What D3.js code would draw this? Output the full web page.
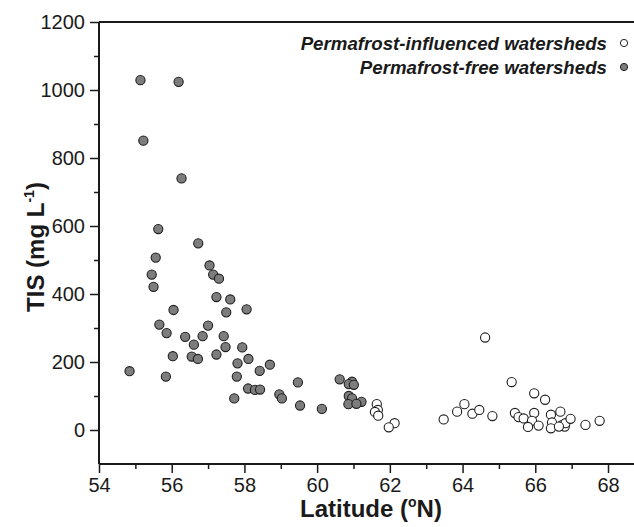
<!DOCTYPE html>
<html>
<head>
<meta charset="utf-8">
<script src="https://cdn.jsdelivr.net/npm/d3@7"></script>
<style>
  html, body { margin: 0; padding: 0; background: #fff; }
  svg { display: block; font-family: "Liberation Sans", Arial, sans-serif; }
</style>
</head>
<body>
<script>
// Permafrost-free watersheds (grey filled)
const freeLat = [55.14, 56.19, 55.22, 56.27, 55.63, 56.73, 55.56, 57.04, 55.45, 57.14,
  57.30, 55.50, 57.23, 57.61, 57.50, 58.06, 56.05, 55.66, 57.00, 55.86,
  56.37, 56.85, 57.43, 56.61, 57.48, 57.94, 56.03, 56.55, 56.72, 57.23,
  58.11, 57.81, 58.70, 54.84, 58.42, 55.84, 57.79, 59.47, 60.62, 58.10,
  58.29, 58.43, 58.96, 59.03, 57.72, 59.53, 60.13, 60.96, 60.87, 61.01,
  60.87, 60.96, 61.22, 60.86, 61.08];
const freeTIS = [1029, 1024, 851, 740, 591, 549, 507, 484, 457, 457,
  445, 421, 391, 384, 346, 355, 353, 310, 307, 285,
  274, 276, 276, 251, 244, 243, 217, 216, 209, 222,
  209, 196, 192, 173, 174, 157, 157, 140, 149, 122,
  118, 119, 105, 93, 93, 72, 62, 142, 135, 133,
  100, 93, 83, 76, 77];

// Permafrost-influenced watersheds (open)
const inflLat = [61.64, 61.67, 61.59, 61.68, 62.13, 61.97, 63.48, 63.85, 64.05, 64.27,
  64.46, 64.82, 64.62, 65.35, 65.97, 66.27, 65.44, 65.54, 65.68, 65.97,
  65.91, 65.80, 66.09, 66.43, 66.69, 66.46, 66.43, 66.73, 66.81, 66.83,
  66.97, 66.65, 67.38, 67.77];
const inflTIS = [76, 59, 53, 42, 20, 8, 31, 54, 76, 48,
  59, 41, 272, 141, 108, 89, 50, 38, 34, 50,
  27, 9, 13, 45, 54, 22, 5, 14, 10, 20,
  33, 10, 15, 27];

const xMajorTicks = [54, 56, 58, 60, 62, 64, 66, 68];
const xMinorTicks = [55, 57, 59, 61, 63, 65, 67];
const yMajorTicks = [0, 200, 400, 600, 800, 1000, 1200];
const yMinorTicks = [100, 300, 500, 700, 900, 1100];
const legendLabels = ["Permafrost-influenced watersheds", "Permafrost-free watersheds"];

const W = 634, H = 527;
const mLeft = 99, mTop = 22, mRight = 634, mBottom = 464;

const svg = d3.select("body").append("svg").attr("width", W).attr("height", H);

const x = d3.scaleLinear().domain([54, 68.715]).range([mLeft, mRight]);
const y = d3.scaleLinear().domain([-100, 1200]).range([mBottom, mTop]);

const ink = "#1a1a1a";

// axes
const gx = svg.append("g").attr("transform", `translate(0,${mBottom})`);
gx.call(d3.axisBottom(x).tickValues(xMajorTicks).tickSize(9).tickPadding(5).tickFormat(d3.format("d")));
const gxm = svg.append("g").attr("transform", `translate(0,${mBottom})`);
gxm.call(d3.axisBottom(x).tickValues(xMinorTicks).tickSize(5).tickFormat(""));

const gy = svg.append("g").attr("transform", `translate(${mLeft},0)`);
gy.call(d3.axisLeft(y).tickValues(yMajorTicks).tickSize(9).tickPadding(5).tickFormat(d3.format("d")));
const gym = svg.append("g").attr("transform", `translate(${mLeft},0)`);
gym.call(d3.axisLeft(y).tickValues(yMinorTicks).tickSize(5).tickFormat(""));

[gx, gxm, gy, gym].forEach(g => {
  g.select(".domain").remove();
  g.selectAll(".tick line").attr("stroke", ink).attr("stroke-width", 1.5);
  g.selectAll(".tick text").attr("fill", ink).style("font-size", "20px")
    .style("font-family", '"Liberation Sans", Arial, sans-serif');
});

// frame lines (left, bottom, top)
svg.append("line").attr("x1", mLeft).attr("x2", mLeft).attr("y1", mTop).attr("y2", mBottom)
  .attr("stroke", ink).attr("stroke-width", 2);
svg.append("line").attr("x1", mLeft).attr("x2", mRight).attr("y1", mBottom).attr("y2", mBottom)
  .attr("stroke", ink).attr("stroke-width", 2);
svg.append("line").attr("x1", mLeft).attr("x2", mRight).attr("y1", mTop).attr("y2", mTop)
  .attr("stroke", ink).attr("stroke-width", 2);

// points
const freeData = freeLat.map((d, i) => ({lat: d, v: freeTIS[i]}));
const inflData = inflLat.map((d, i) => ({lat: d, v: inflTIS[i]}));

svg.append("g").selectAll("circle").data(freeData).join("circle")
  .attr("cx", d => x(d.lat)).attr("cy", d => y(d.v)).attr("r", 4.6)
  .attr("fill", "#7d7d7d").attr("stroke", "#1e1e1e").attr("stroke-width", 1.1);

svg.append("g").selectAll("circle").data(inflData).join("circle")
  .attr("cx", d => x(d.lat)).attr("cy", d => y(d.v)).attr("r", 4.6)
  .attr("fill", "#fff").attr("stroke", "#1e1e1e").attr("stroke-width", 1.1);

// legend
const leg = svg.append("g");
const legY = [43, 67];
leg.selectAll("text").data(legendLabels).join("text")
  .attr("x", 607).attr("y", (d, i) => legY[i] + 6.5)
  .attr("text-anchor", "end")
  .style("font-size", "18.7px").style("font-weight", "bold").style("font-style", "italic")
  .attr("fill", ink).text(d => d);
leg.append("circle").attr("cx", 624).attr("cy", legY[0]).attr("r", 3.6)
  .attr("fill", "#fff").attr("stroke", "#1e1e1e").attr("stroke-width", 1);
leg.append("circle").attr("cx", 624).attr("cy", legY[1]).attr("r", 3.6)
  .attr("fill", "#7d7d7d").attr("stroke", "#1e1e1e").attr("stroke-width", 1);

// x title
const xt = svg.append("text").attr("x", 371).attr("y", 517)
  .attr("text-anchor", "middle").style("font-size", "24px").style("font-weight", "bold").attr("fill", ink);
xt.append("tspan").text("Latitude (");
xt.append("tspan").attr("dy", -10).style("font-size", "14px").text("o");
xt.append("tspan").attr("dy", 10).text("N)");

// y title
const yt = svg.append("text").attr("transform", `translate(44,247) rotate(-90)`)
  .attr("text-anchor", "middle").style("font-size", "24px").style("font-weight", "bold").attr("fill", ink);
yt.append("tspan").text("TIS (mg L");
yt.append("tspan").attr("dy", -10).style("font-size", "14px").text("-1");
yt.append("tspan").attr("dy", 10).text(")");
</script>
</body>
</html>
